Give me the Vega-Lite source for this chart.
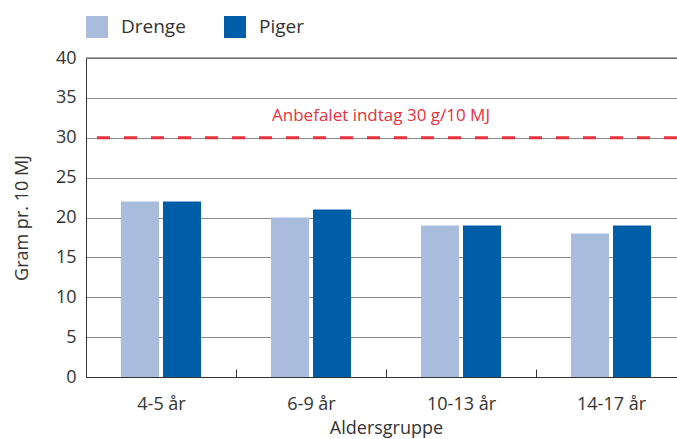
{
  "$schema": "https://vega.github.io/schema/vega-lite/v6.json",
  "width": 591,
  "height": 319,
  "autosize": {"type": "none"},
  "padding": {"left": 86, "top": 58, "right": 0, "bottom": 62},
  "config": {
    "view": {"stroke": null},
    "font": "Open Sans",
    "text": {"font": "Open Sans"},
    "axisY": {
      "ticks": false,
      "labelOverlap": false,
      "labelPadding": 10,
      "labelFontSize": 18,
      "labelColor": "#333333",
      "titleFontSize": 18,
      "titleFontWeight": "normal",
      "titleColor": "#333333",
      "titlePadding": 24,
      "domainColor": "#333333",
      "grid": true,
      "gridColor": "#8a8a8a"
    }
  },
  "layer": [
    {
      "data": {
        "values": [
          {"alder": "4-5 år", "køn": "Drenge", "gram": 22},
          {"alder": "4-5 år", "køn": "Piger", "gram": 22},
          {"alder": "6-9 år", "køn": "Drenge", "gram": 20},
          {"alder": "6-9 år", "køn": "Piger", "gram": 21},
          {"alder": "10-13 år", "køn": "Drenge", "gram": 19},
          {"alder": "10-13 år", "køn": "Piger", "gram": 19},
          {"alder": "14-17 år", "køn": "Drenge", "gram": 18},
          {"alder": "14-17 år", "køn": "Piger", "gram": 19}
        ]
      },
      "mark": {"type": "bar"},
      "encoding": {
        "x": {
          "field": "alder",
          "type": "nominal",
          "sort": ["4-5 år", "6-9 år", "10-13 år", "14-17 år"],
          "scale": {"range": [0, 600], "paddingInner": 0, "paddingOuter": 0},
          "axis": {
            "title": "Aldersgruppe",
            "labelAngle": 0,
            "labelFontSize": 18,
            "labelColor": "#333333",
            "labelPadding": 26,
            "titleFontSize": 18,
            "titleFontWeight": "normal",
            "titleColor": "#333333",
            "titlePadding": 6,
            "domainColor": "#333333",
            "tickColor": "#333333",
            "tickSize": -8,
            "tickOffset": -75,
            "labelOffset": 75,
            "grid": false
          }
        },
        "xOffset": {
          "field": "køn",
          "sort": ["Drenge", "Piger"],
          "scale": {"paddingInner": 0.0952, "paddingOuter": 0.833}
        },
        "y": {
          "field": "gram",
          "type": "quantitative",
          "scale": {"domain": [0, 40]},
          "axis": {"title": "Gram pr. 10 MJ", "values": [0, 5, 10, 15, 20, 25, 30, 35, 40]}
        },
        "color": {
          "field": "køn",
          "type": "nominal",
          "scale": {"domain": ["Drenge", "Piger"], "range": ["#a9bcdd", "#005da8"]},
          "legend": {
            "title": null,
            "orient": "none",
            "legendX": 0,
            "legendY": -42,
            "direction": "horizontal",
            "symbolType": "square",
            "symbolSize": 484,
            "symbolStrokeWidth": 0,
            "symbolOpacity": 1,
            "labelFontSize": 19,
            "labelColor": "#333333",
            "labelOffset": 13,
            "columnPadding": 38
          }
        }
      }
    },
    {
      "data": {"values": [{"niveau": 40}]},
      "mark": {"type": "rule", "color": "#555555", "strokeWidth": 1},
      "encoding": {
        "y": {"field": "niveau", "type": "quantitative", "axis": {"title": "Gram pr. 10 MJ", "values": [0, 5, 10, 15, 20, 25, 30, 35, 40]}}
      }
    },
    {
      "data": {"values": [{"niveau": 30, "tekst": "Anbefalet indtag 30 g/10 MJ", "alder": "6-9 år"}]},
      "layer": [
        {
          "mark": {"type": "rule", "color": "#e8313b", "strokeWidth": 3, "strokeDash": [13, 14]},
          "encoding": {
            "y": {"field": "niveau", "type": "quantitative", "axis": {"title": "Gram pr. 10 MJ", "values": [0, 5, 10, 15, 20, 25, 30, 35, 40]}}
          }
        },
        {
          "mark": {"type": "text", "color": "#e8313b", "fontSize": 17, "dy": -22, "dx": -5, "align": "center", "baseline": "middle"},
          "encoding": {
            "y": {"field": "niveau", "type": "quantitative", "axis": {"title": "Gram pr. 10 MJ", "values": [0, 5, 10, 15, 20, 25, 30, 35, 40]}},
            "x": {"field": "alder", "type": "nominal", "sort": ["4-5 år", "6-9 år", "10-13 år", "14-17 år"], "bandPosition": 1},
            "text": {"field": "tekst"}
          }
        }
      ]
    }
  ]
}
